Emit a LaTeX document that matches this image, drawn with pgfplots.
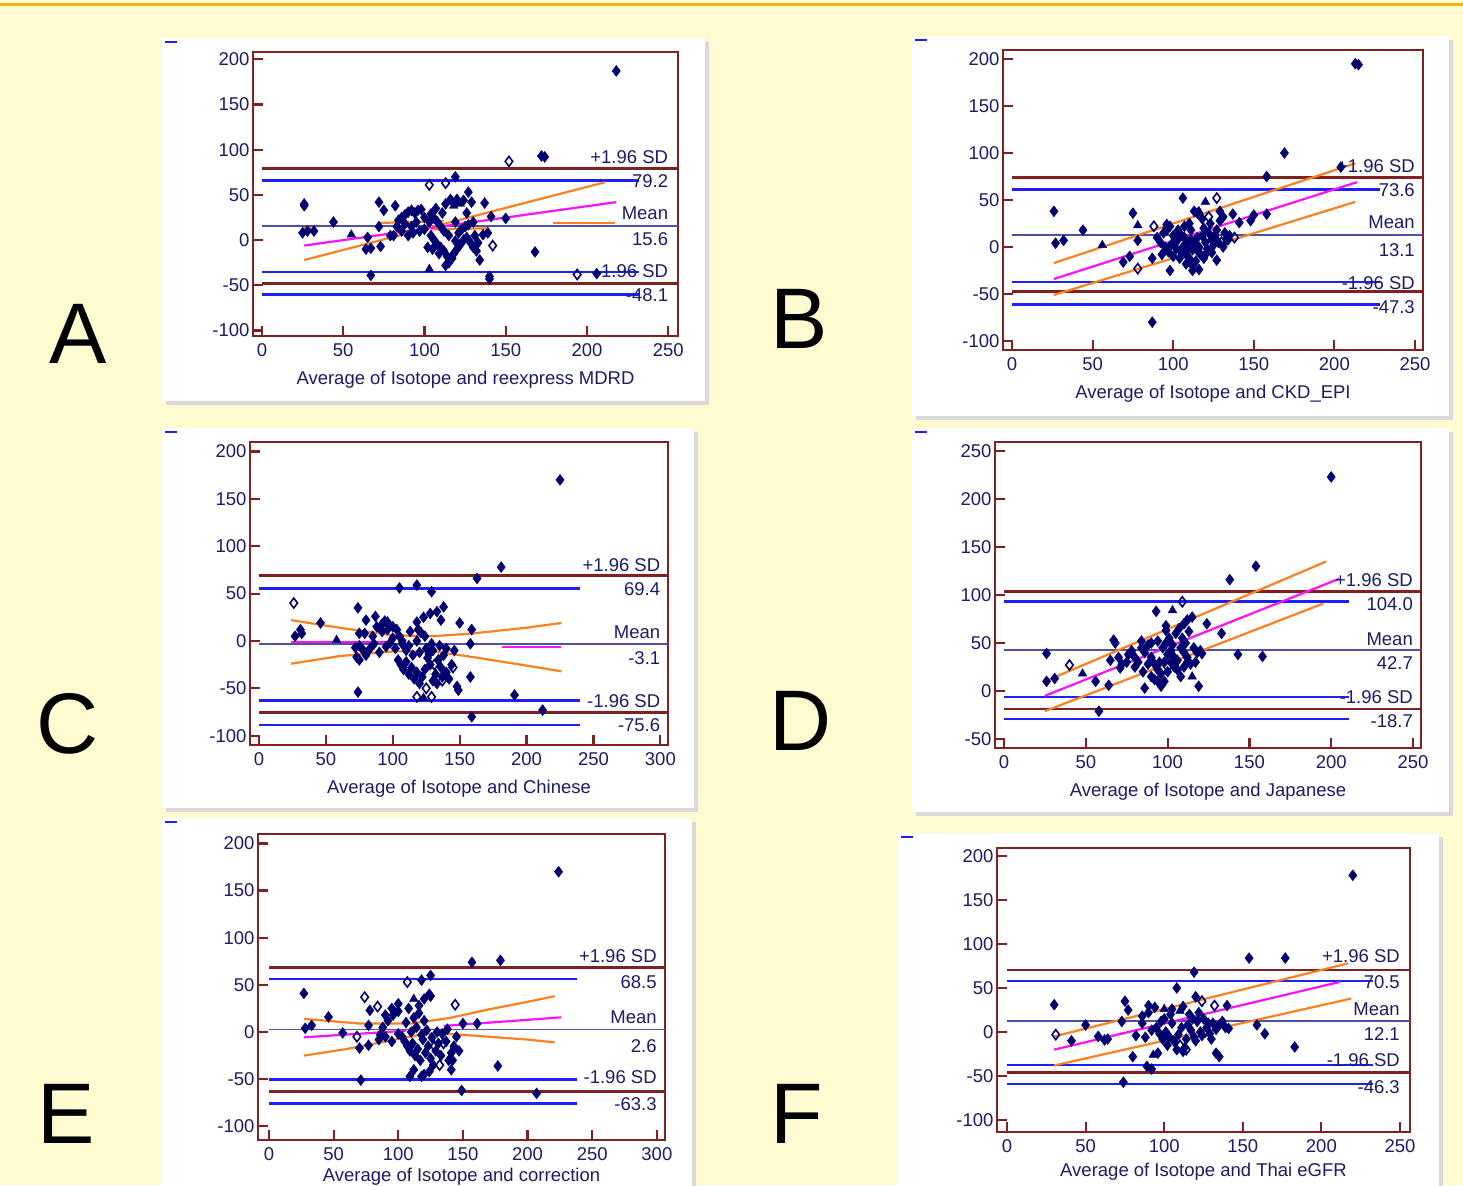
\documentclass[border=0pt]{standalone}
\usepackage{pgfplots}
\pgfplotsset{compat=1.18}
\usepackage{fontspec}
\setmainfont{Liberation Sans}

\definecolor{bg}{RGB}{255,251,208}
\definecolor{topl}{RGB}{245,175,30}
\definecolor{frm}{RGB}{128,32,32}
\definecolor{blu}{RGB}{30,30,255}
\definecolor{mnc}{RGB}{80,80,160}
\definecolor{org}{RGB}{255,128,32}
\definecolor{mag}{RGB}{255,16,255}
\definecolor{ptc}{RGB}{0,0,112}
\definecolor{txt}{RGB}{28,28,105}

\newcommand{\tf}{\fontsize{18.5}{20}\selectfont}
\newcommand{\letfont}{\fontsize{86}{90}\selectfont}

\tikzset{lab/.style={font=\tf, text=txt, anchor=east, inner sep=0pt}}

\pgfplotsset{
  bap/.style={
    scale only axis, clip=false, anchor=south west,
    axis line style={draw=frm, line width=2.6pt},
    tick align=inside, major tick length=10pt,
    xtick pos=bottom, ytick pos=left,
    tick style={draw=frm, line width=2.2pt},
    tick label style={font=\tf, text=txt},
    xticklabel style={yshift=-4pt},
    xlabel style={font=\tf, text=txt, yshift=-8pt},
  },
  mlim/.style={draw=frm, line width=2.8pt},
  blim/.style={draw=blu, line width=2.5pt},
  mline/.style={draw=mnc, line width=1.8pt},
  ci/.style={draw=org, line width=2.2pt},
  reg/.style={draw=mag, line width=2.2pt},
  pf/.style={only marks, mark=diamond*, mark size=5.5pt, color=ptc},
  ptr/.style={only marks, mark=triangle*, mark size=5pt, color=ptc},
  po/.style={only marks, mark=diamond, mark size=5pt, color=ptc, mark options={fill=white, line width=1.6pt}},
}

\begin{document}
\begin{tikzpicture}
\useasboundingbox (0pt,0pt) rectangle (1463pt,-1185pt);
\clip (0pt,0pt) rectangle (1463pt,-1185pt);
\fill[bg] (0pt,0pt) rectangle (1463pt,-1185pt);
\draw[topl, line width=3pt] (0pt,-5pt) -- (1463pt,-5pt);

% panels
\foreach \a/\b/\c/\d in {162/38/705/401, 912/36/1449/416, 162/428/694/808, 912/428/1449/812, 162/818/692/1195, 898/833/1439/1195}{
  \fill[gray!30] (\a pt+4pt,-\b pt-4pt) rectangle (\c pt+4pt,-\d pt-4pt);
  \fill[white] (\a pt,-\b pt) rectangle (\c pt,-\d pt);
  \draw[blu, line width=2pt] (\a pt+3pt,-\b pt-4pt) -- (\a pt+15pt,-\b pt-4pt);
}

% letters
\node[font=\letfont] at (78pt,-334pt) {A};
\node[font=\letfont] at (799pt,-319pt) {B};
\node[font=\letfont] at (68pt,-724pt) {C};
\node[font=\letfont] at (801pt,-721pt) {D};
\node[font=\letfont] at (66pt,-1114pt) {E};
\node[font=\letfont] at (797pt,-1114pt) {F};

% ---------------- A
\begin{axis}[bap, at={(253pt,-336pt)}, width=425pt, height=284pt,
  xmin=-5.5, xmax=256, ymin=-106, ymax=208,
  xtick={0,50,100,150,200,250}, xticklabels={0,50,100,150,200,250},
  ytick={-100,-50,0,50,100,150,200}, yticklabels={-100,-50,0,50,100,150,200},
  xlabel={Average of Isotope and reexpress MDRD}]
\addplot[mlim] coordinates {(0,79.2) (256,79.2)};
\addplot[mlim] coordinates {(0,-48.1) (256,-48.1)};
\addplot[blim] coordinates {(0,66) (232,66)};
\addplot[blim] coordinates {(0,-35) (232,-35)};
\addplot[blim] coordinates {(0,-60) (232,-60)};
\addplot[mline] coordinates {(0,15.6) (256,15.6)};
\addplot[pf] coordinates {(218,187) (172,93) (174,92) (119,70) (168,-13) (206,-37) (140,-40) (140,-43) (67,-39) (26,40) (26,38) (44,20) (25,8) (28,10) (32,10) (65,3) (67,-9) (64,-10) (72,42) (75,33) (82,38) (72,15) (73,-7) (79,5) (81,5)
 (84,22) (86,25) (88,28) (90,31) (92,33) (94,30) (96,33) (98,34) (88,18) (92,15) (95,20) (100,25) (104,29) (106,24) (108,20) (110,15) (112,10) (113,40) (116,45) (120,45) (124,44) (127,53) (129,42) (137,41) (141,26) (150,24) (104,5) (106,0) (108,-5) (110,-8) (112,-12) (114,-18) (116,-22) (118,-15) (120,-10) (122,-5) (124,0) (126,3) (128,-2) (130,-8) (132,-12) (134,-22) (102,-8) (105,-10) (109,-15) (113,-28) (115,-25) (117,-20) (119,-1) (121,8) (123,12) (125,15) (127,17) (131,5) (133,-3) (136,6) (139,8) (100,12) (97,10) (93,8) (90,5) (86,10) (83,15) (111,30) (115,5) (119,20) (103,20) (107,35) (126,30) (130,20)};
\addplot[ptr] coordinates {(55,6) (103,-32) (118,38) (122,40)};
\addplot[po] coordinates {(152,87) (103,61) (113,63) (194,-38) (142,-6)};
\addplot[ci] coordinates {(26,-22) (211,64)};
\addplot[ci] coordinates {(25,13) (30,13)};
\addplot[ci] coordinates {(72,19) (112,21)};
\addplot[ci] coordinates {(104,12) (140,13)};
\addplot[ci] coordinates {(179,19) (217,19)};
\addplot[reg] coordinates {(26,-6) (218,42)};
\node[lab] at (axis cs:250,92) {+1.96 SD};
\node[lab] at (axis cs:250,65.6) {79.2};
\node[lab] at (axis cs:250,30) {Mean};
\node[lab] at (axis cs:250,1) {15.6};
\node[lab] at (axis cs:250,-34.4) {-1.96 SD};
\node[lab] at (axis cs:250,-61) {-48.1};
\end{axis}

% ---------------- B
\begin{axis}[bap, at={(1003pt,-350pt)}, width=420pt, height=300pt,
  xmin=-5.6, xmax=255, ymin=-109.6, ymax=209.6,
  xtick={0,50,100,150,200,250}, xticklabels={0,50,100,150,200,250},
  ytick={-100,-50,0,50,100,150,200}, yticklabels={-100,-50,0,50,100,150,200},
  xlabel={Average of Isotope and CKD\_EPI}]
\addplot[mlim] coordinates {(0,73.6) (255,73.6)};
\addplot[mlim] coordinates {(0,-47.3) (255,-47.3)};
\addplot[blim] coordinates {(0,61) (228,61)};
\addplot[blim] coordinates {(0,-37.5) (228,-37.5)};
\addplot[blim] coordinates {(0,-61) (228,-61)};
\addplot[mline] coordinates {(0,13.1) (255,13.1)};
\addplot[pf] coordinates {(213,195) (215,194) (169,100) (158,75) (204,85) (87,-80) (26,38) (27,4) (32,7) (44,18) (75,36) (78,7) (69,-16) (73,-10) (87,-12) (96,24) (96,18) (98,-25) (106,52) (115,36) (129,38) (127,-14) (112,-25) (131,32) (137,35) (141,26) (150,34) (148,28) (158,35)
 (90,10) (92,5) (94,15) (96,20) (98,22) (100,12) (101,5) (102,-2) (103,8) (104,15) (105,-5) (106,0) (107,10) (108,-8) (109,3) (110,-12) (111,18) (112,-3) (113,5) (114,-15) (115,10) (116,0) (117,-8) (118,12) (119,20) (120,5) (121,-2) (122,15) (123,25) (124,8) (125,2) (126,12) (127,18) (128,5) (129,28) (131,0) (132,15) (133,8) (135,12) (100,-10) (104,-12) (108,-18) (112,-20) (116,-24) (120,-8) (95,0) (97,-5) (93,-8) (99,3) (103,18) (107,22) (110,25) (113,38) (118,30) (111,8) (109,-2) (115,-4) (119,-12) (124,-6)};
\addplot[ptr] coordinates {(56,2) (78,23) (120,48) (116,38)};
\addplot[po] coordinates {(88,22) (78,-23) (127,52) (122,32) (130,5) (134,8) (138,10)};
\addplot[ci] coordinates {(26,-17) (213,89)};
\addplot[ci] coordinates {(26,-51) (213,48)};
\addplot[reg] coordinates {(26,-34) (214,69)};
\node[lab] at (axis cs:250,86) {+1.96 SD};
\node[lab] at (axis cs:250,60) {73.6};
\node[lab] at (axis cs:250,26) {Mean};
\node[lab] at (axis cs:250,-3) {13.1};
\node[lab] at (axis cs:250,-38) {-1.96 SD};
\node[lab] at (axis cs:250,-63.5) {-47.3};
\end{axis}

% ---------------- C
\begin{axis}[bap, at={(250pt,-745pt)}, width=418pt, height=303pt,
  xmin=-6.7, xmax=305.7, ymin=-109.8, ymax=210,
  xtick={0,50,100,150,200,250,300}, xticklabels={0,50,100,150,200,250,300},
  ytick={-100,-50,0,50,100,150,200}, yticklabels={-100,-50,0,50,100,150,200},
  xlabel={Average of Isotope and Chinese}]
\addplot[mlim] coordinates {(0,69.4) (305.7,69.4)};
\addplot[mlim] coordinates {(0,-75.6) (305.7,-75.6)};
\addplot[blim] coordinates {(0,55.5) (240,55.5)};
\addplot[blim] coordinates {(0,-63) (240,-63)};
\addplot[blim] coordinates {(0,-88.5) (240,-88.5)};
\addplot[mline] coordinates {(0,-3.1) (305.7,-3.1)};
\addplot[pf] coordinates {(225,170) (181,78) (163,66) (31,12) (32,8) (27,5) (46,19) (74,35) (80,22) (87,26) (75,8) (79,8) (72,-7) (73,-17) (75,-20) (92,18) (94,21) (96,20) (105,5) (107,0) (105,56) (118,59) (129,52) (118,20) (123,25) (128,29) (133,31) (138,36) (136,22) (121,9) (74,-54) (149,-52) (158,-38) (150,19) (159,12) (158,-3) (159,-80) (191,-57) (212,-73)
 (75,-5) (78,-10) (80,-15) (83,-8) (86,-3) (90,-12) (95,-6) (98,-2) (100,3) (102,-8) (104,-20) (106,-25) (108,-30) (110,-22) (112,-35) (114,-28) (116,-40) (118,-33) (120,-45) (122,-38) (124,-30) (126,-18) (128,-25) (130,-42) (132,-35) (134,-20) (136,-28) (138,-15) (140,-33) (142,-40) (144,-25) (146,-10) (148,-48) (110,-10) (115,-15) (120,-12) (125,-8) (130,-10) (135,-5) (140,-8) (112,-5) (118,0) (124,5) (129,-3) (85,5) (88,15) (92,10) (96,12) (100,15) (103,12) (107,-3) (113,10) (119,12) (127,-14) (133,-45) (137,-38)};
\addplot[ptr] coordinates {(58,1) (123,-60)};
\addplot[po] coordinates {(26,40) (118,-59) (129,-59) (125,-50) (137,-42) (145,-28) (131,-25)};
\addplot[ci] coordinates {(24,22) (60,14) (100,6) (130,5) (160,8) (200,14) (226,19)};
\addplot[ci] coordinates {(24,-24) (60,-16) (100,-11) (130,-11) (160,-17) (200,-26) (226,-32)};
\addplot[reg] coordinates {(24,-1) (100,-1)};
\addplot[reg] coordinates {(182,-6) (226,-6)};
\node[lab] at (axis cs:300,80.5) {+1.96 SD};
\node[lab] at (axis cs:300,55) {69.4};
\node[lab] at (axis cs:300,9.3) {Mean};
\node[lab] at (axis cs:300,-18) {-3.1};
\node[lab] at (axis cs:300,-63) {-1.96 SD};
\node[lab] at (axis cs:300,-89) {-75.6};
\end{axis}

% ---------------- D
\begin{axis}[bap, at={(995pt,-748pt)}, width=426pt, height=306pt,
  xmin=-5.5, xmax=254.9, ymin=-59.4, ymax=259.4,
  xtick={0,50,100,150,200,250}, xticklabels={0,50,100,150,200,250},
  ytick={-50,0,50,100,150,200,250}, yticklabels={-50,0,50,100,150,200,250},
  xlabel={Average of Isotope and Japanese}]
\addplot[mlim] coordinates {(0,104) (254.9,104)};
\addplot[mlim] coordinates {(0,-18.7) (254.9,-18.7)};
\addplot[blim] coordinates {(0,93) (211,93)};
\addplot[blim] coordinates {(0,-6.5) (211,-6.5)};
\addplot[blim] coordinates {(0,-29) (211,-29)};
\addplot[mline] coordinates {(0,42.7) (254.9,42.7)};
\addplot[pf] coordinates {(200,223) (154,130) (138,116) (26,39) (26,10) (31,13) (56,10) (58,-21) (65,32) (64,6) (67,53) (71,24) (93,83) (99,68) (99,63) (110,70) (115,77) (112,74) (86,3) (94,10) (119,5) (121,39) (124,70) (133,60) (143,38) (158,36)
 (76,38) (78,42) (80,35) (82,30) (84,45) (86,40) (88,48) (90,35) (92,28) (94,22) (96,18) (98,30) (100,38) (102,42) (104,25) (106,32) (108,45) (110,40) (112,35) (114,28) (116,45) (118,40) (80,25) (85,20) (88,28) (90,15) (92,12) (95,30) (97,45) (99,50) (101,55) (103,48) (105,60) (107,65) (109,55) (111,50) (113,62) (96,5) (98,10) (100,20) (102,30) (104,35) (106,22) (108,15) (110,25) (112,30) (75,30) (72,28) (70,35) (68,50) (84,52) (90,50) (94,52) (120,42) (117,30)};
\addplot[ptr] coordinates {(48,18) (103,84) (115,15)};
\addplot[po] coordinates {(40,27) (109,93) (105,30) (100,25)};
\addplot[ci] coordinates {(25,10) (197,135)};
\addplot[ci] coordinates {(25,-21) (195,91)};
\addplot[reg] coordinates {(25,-5) (205,117)};
\node[lab] at (axis cs:250,115.5) {+1.96 SD};
\node[lab] at (axis cs:250,90) {104.0};
\node[lab] at (axis cs:250,53.5) {Mean};
\node[lab] at (axis cs:250,29.5) {42.7};
\node[lab] at (axis cs:250,-6.5) {-1.96 SD};
\node[lab] at (axis cs:250,-31) {-18.7};
\end{axis}

% ---------------- E
\begin{axis}[bap, at={(258pt,-1140pt)}, width=407pt, height=306pt,
  xmin=-8.5, xmax=306.3, ymin=-114.5, ymax=210,
  xtick={0,50,100,150,200,250,300}, xticklabels={0,50,100,150,200,250,300},
  ytick={-100,-50,0,50,100,150,200}, yticklabels={-100,-50,0,50,100,150,200},
  xlabel style={yshift=7pt},
  xlabel={Average of Isotope and correction}]
\addplot[mlim] coordinates {(0,68.5) (306.3,68.5)};
\addplot[mlim] coordinates {(0,-63.3) (306.3,-63.3)};
\addplot[blim] coordinates {(0,56) (238,56)};
\addplot[blim] coordinates {(0,-50.5) (238,-50.5)};
\addplot[blim] coordinates {(0,-76) (238,-76)};
\addplot[mline] coordinates {(0,2.6) (306.3,2.6)};
\addplot[pf] coordinates {(224,170) (27,41) (28,4) (33,7) (46,16) (57,-1) (78,23) (77,7) (77,-14) (70,-17) (86,-3) (90,18) (95,25) (100,30) (118,55) (125,60) (116,28) (120,35) (124,40) (125,38) (150,9) (161,9) (71,-51) (109,-47) (118,-47) (141,-40) (177,-36) (149,-62) (207,-65) (157,74) (179,76)
 (103,-5) (105,-10) (107,-15) (109,-20) (111,-12) (113,-25) (115,-18) (117,-30) (119,-8) (121,-22) (123,-15) (125,-28) (127,-35) (129,-20) (131,-12) (133,-25) (137,-10) (139,-30) (141,-22) (143,-15) (145,-5) (147,-20) (110,0) (114,5) (118,-3) (122,2) (126,-6) (130,0) (134,-2) (138,3) (106,10) (112,15) (116,20) (120,12) (108,25) (100,22) (96,18) (92,12) (88,5) (85,-8) (90,-5) (95,-10) (100,-2) (112,-40) (124,-42) (120,-45) (142,-30)};
\addplot[ptr] coordinates {(112,35) (97,22)};
\addplot[po] coordinates {(68,-5) (74,37) (84,27) (107,53) (144,29) (132,-35) (128,-15) (135,-12)};
\addplot[ci] coordinates {(27,14) (70,9) (110,9) (140,15) (170,24) (200,32) (221,38)};
\addplot[ci] coordinates {(27,-25) (60,-18) (90,-10) (120,-2) (140,-2) (170,-5) (200,-8) (221,-11)};
\addplot[reg] coordinates {(27,-5.6) (106,1.4)};
\addplot[reg] coordinates {(135,6.4) (226,15.6)};
\node[lab] at (axis cs:300,80.5) {+1.96 SD};
\node[lab] at (axis cs:300,53) {68.5};
\node[lab] at (axis cs:300,15.7) {Mean};
\node[lab] at (axis cs:300,-14.7) {2.6};
\node[lab] at (axis cs:300,-48.3) {-1.96 SD};
\node[lab] at (axis cs:300,-76.2) {-63.3};
\end{axis}

% ---------------- F
\begin{axis}[bap, at={(997pt,-1132pt)}, width=413pt, height=284pt,
  xmin=-6.4, xmax=256.4, ymin=-113.6, ymax=209,
  xtick={0,50,100,150,200,250}, xticklabels={0,50,100,150,200,250},
  ytick={-100,-50,0,50,100,150,200}, yticklabels={-100,-50,0,50,100,150,200},
  xlabel style={yshift=4pt},
  xlabel={Average of Isotope and Thai eGFR}]
\addplot[mlim] coordinates {(0,70.5) (256.4,70.5)};
\addplot[mlim] coordinates {(0,-46.3) (256.4,-46.3)};
\addplot[blim] coordinates {(0,58) (233,58)};
\addplot[blim] coordinates {(0,-37.3) (233,-37.3)};
\addplot[blim] coordinates {(0,-59.2) (233,-59.2)};
\addplot[mline] coordinates {(0,12.1) (256.4,12.1)};
\addplot[pf] coordinates {(220,178) (30,31) (41,-10) (50,8) (58,-5) (62,-9) (64,-8) (75,35) (77,25) (73,12) (80,-28) (89,-39) (92,-42) (74,-57) (82,-4) (86,10) (90,30) (96,-24) (108,50) (105,26) (112,29) (120,40) (140,30) (119,68) (133,-24) (135,-28) (159,8) (164,-2) (183,-17) (154,84) (177,84)
 (95,5) (97,-2) (99,-8) (101,0) (103,-5) (105,10) (107,-12) (109,-3) (111,5) (113,-18) (115,8) (117,2) (119,-6) (121,12) (123,0) (125,15) (127,5) (129,-2) (131,10) (133,3) (135,8) (137,12) (139,5) (141,4) (100,15) (104,20) (108,-20) (112,-22) (116,20) (120,-10) (124,-4) (128,10) (92,2) (88,-6) (86,18) (90,22) (94,28) (98,12) (102,-15) (106,-10) (114,-8) (118,15) (122,22) (130,-8)};
\addplot[ptr] coordinates {(100,26) (110,24) (93,-26)};
\addplot[po] coordinates {(31,-3) (124,35) (132,30) (126,0) (110,-15) (114,-20)};
\addplot[ci] coordinates {(30,-5) (217,78)};
\addplot[ci] coordinates {(30,-38) (219,38)};
\addplot[reg] coordinates {(30,-20) (212,57)};
\node[lab] at (axis cs:250,86) {+1.96 SD};
\node[lab] at (axis cs:250,57) {70.5};
\node[lab] at (axis cs:250,26) {Mean};
\node[lab] at (axis cs:250,-2.7) {12.1};
\node[lab] at (axis cs:250,-31.5) {-1.96 SD};
\node[lab] at (axis cs:250,-62.3) {-46.3};
\end{axis}
\end{tikzpicture}
\end{document}
